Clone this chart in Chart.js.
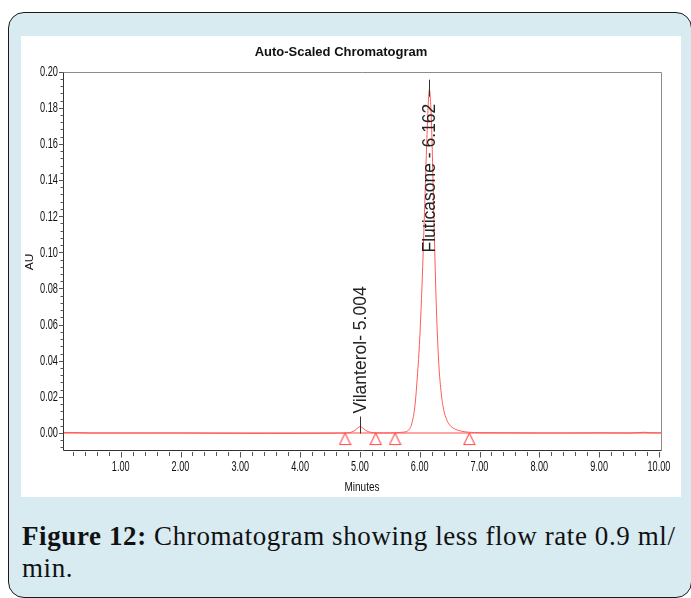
<!DOCTYPE html>
<html>
<head>
<meta charset="utf-8">
<script src="https://cdn.jsdelivr.net/npm/chart.js@4.4.1/dist/chart.umd.min.js"></script>
<style>
  html, body { margin: 0; padding: 0; background: #fff; }
  body { width: 691px; height: 598px; position: relative; overflow: hidden; }
  #panel { position: absolute; left: 8px; top: 12px; width: 684px; height: 586px; box-sizing: border-box;
           border: 1.5px solid #1a1a1a; border-radius: 16px; background: #d8ebf1; }
  #plot { position: absolute; left: 21px; top: 36px; width: 660px; height: 461px; background: #fff; }
  #caption { position: absolute; left: 22px; top: 520px; font-family: 'Liberation Serif', serif;
             font-size: 27px; line-height: 32px; color: #111; white-space: nowrap; letter-spacing: 0.6px; }
</style>
</head>
<body>
<div id="panel"></div>
<div id="plot"><canvas id="chart"></canvas></div>
<div id="caption"><b>Figure 12:</b> Chromatogram showing less flow rate 0.9 ml/<br>min.</div>
<script>
// trace (minutes, AU)
const times = [0.035, 0.1, 0.2, 0.3, 0.5, 1.0, 1.5, 2.0, 2.5, 3.0, 3.5, 4.0, 4.5,
  4.75, 4.85, 4.92, 4.97, 5.004, 5.04, 5.1, 5.18, 5.27, 5.4, 5.57, 5.7, 5.8, 5.87,
  5.92, 5.96, 6.0, 6.04, 6.08, 6.12, 6.162, 6.2, 6.24, 6.28, 6.32, 6.36, 6.4, 6.45,
  6.5, 6.6, 6.7, 6.83, 7.0, 7.5, 8.0, 8.5, 9.0, 9.5, 9.75, 9.85, 10.035];
const absorbance = [0.0001, 0.0003, 0.0003, 0.0002, 0.0, 0.0, 0.0, 0.0, -0.0001, -0.0002, -0.0002, -0.0002, -0.0001,
  0.0, 0.0004, 0.0015, 0.003, 0.0036, 0.003, 0.0014, 0.0004, 0.0001, 0.0, 0.0001, 0.0004, 0.0012, 0.0055,
  0.015, 0.031, 0.052, 0.083, 0.122, 0.163, 0.190, 0.168, 0.115, 0.068, 0.038, 0.022, 0.013, 0.0075,
  0.0045, 0.002, 0.001, 0.0004, 0.0002, 0.0001, 0.0, 0.0, 0.0001, 0.0, 0.0004, 0.0002, 0.0001];

const baselineTimes = [0.035, 10.035];
const baselineAU = [0, 0];

const markerTimes = [4.751, 5.264, 5.587, 6.829];
const markerAU = [0, 0, 0, 0];

const peakNames = ['Vilanterol- 5.004', 'Fluticasone - 6.162'];
const peakTimes = [5.004, 6.162];
const peakAU = [0.0036, 0.190];

const xTickValues = [1, 2, 3, 4, 5, 6, 7, 8, 9, 10];
const yTickValues = [0, 0.02, 0.04, 0.06, 0.08, 0.10, 0.12, 0.14, 0.16, 0.18, 0.20];
const xTitle = 'Minutes';
const yTitle = 'AU';

const sans = "'Liberation Sans', Arial, sans-serif";

// open triangle with its tip on the point
function triangleMark() {
  const c = document.createElement('canvas');
  c.width = 13; c.height = 26;
  const g = c.getContext('2d');
  g.strokeStyle = '#ff4f4f';
  g.lineWidth = 1.1;
  g.beginPath();
  g.moveTo(6.5, 13); g.lineTo(1, 24.5); g.lineTo(12, 24.5); g.closePath();
  g.stroke();
  return c;
}

// the instrument print uses a squeezed Arial for the axes
function squeezed(ctx, text, x, y, size, sx, align, rotate) {
  ctx.save();
  ctx.translate(x, y);
  ctx.scale(sx, 1);
  if (rotate) ctx.rotate(-Math.PI / 2);
  ctx.font = size + 'px ' + sans;
  ctx.textAlign = align;
  ctx.textBaseline = 'middle';
  ctx.fillText(text, 0, 0);
  ctx.restore();
}

const frame = {
  id: 'frame',
  afterDraw(chart) {
    const { ctx, chartArea: a, scales: { x, y } } = chart;
    const L = Math.round(a.left) + 0.5, T = Math.round(a.top) + 0.5;
    const R = Math.round(a.right) + 0.5, B = Math.round(a.bottom) + 0.5;
    ctx.save();
    ctx.lineWidth = 1;
    ctx.strokeStyle = '#8c8c8c';
    ctx.beginPath();
    ctx.moveTo(L, T); ctx.lineTo(R, T); ctx.lineTo(R, B);
    ctx.stroke();
    ctx.strokeStyle = '#333';
    ctx.beginPath();
    ctx.moveTo(L, T); ctx.lineTo(L, B); ctx.lineTo(R, B);
    ctx.stroke();

    ctx.strokeStyle = '#555';
    ctx.beginPath();
    for (let i = -2; i <= 50; i++) {
      const py = Math.round(y.getPixelForValue(i * 0.004)) + 0.5;
      const len = i % 5 === 0 ? 4.5 : 3;
      ctx.moveTo(L - len, py); ctx.lineTo(L, py);
    }
    for (let i = 1; i <= 50; i++) {
      const px = Math.round(x.getPixelForValue(i * 0.2)) + 0.5;
      const major = i % 5 === 0;
      ctx.moveTo(px, B + 1.5); ctx.lineTo(px, B + (major ? 7 : 5.5));
    }
    ctx.stroke();

    ctx.fillStyle = '#111';
    yTickValues.forEach(v => {
      squeezed(ctx, v.toFixed(2), a.left - 5, y.getPixelForValue(v) + 0.5, 14, 0.66, 'right');
    });
    xTickValues.forEach(v => {
      squeezed(ctx, v.toFixed(2), x.getPixelForValue(v), a.bottom + 17, 14.5, 0.63, 'center');
    });
    squeezed(ctx, xTitle, (a.left + a.right) / 2, a.bottom + 37, 13.5, 0.74, 'center');
    squeezed(ctx, yTitle, 9, (a.top + a.bottom) / 2 + 1, 12, 0.85, 'center', true);
    ctx.restore();
  }
};

const peakLabels = {
  id: 'peakLabels',
  afterDatasetsDraw(chart) {
    const { ctx, chartArea: a, scales: { x, y } } = chart;
    ctx.save();
    ctx.font = '17.5px ' + sans;
    ctx.fillStyle = '#222';
    ctx.strokeStyle = '#333';
    ctx.lineWidth = 1;
    ctx.textBaseline = 'middle';
    peakNames.forEach((name, i) => {
      const px = Math.round(x.getPixelForValue(peakTimes[i])) + 0.5;
      const py = y.getPixelForValue(peakAU[i]);
      ctx.beginPath();
      ctx.moveTo(px, py - 10); ctx.lineTo(px, py + 7);
      ctx.stroke();
      const w = ctx.measureText(name).width;
      ctx.save();
      if (py - 13 - w > a.top) {
        ctx.translate(px, py - 13);
        ctx.textAlign = 'left';
      } else {
        ctx.translate(px, py + 14);
        ctx.textAlign = 'right';
      }
      ctx.rotate(-Math.PI / 2);
      ctx.fillText(name, 0, 1);
      ctx.restore();
    });
    ctx.restore();
  }
};

new Chart(document.getElementById('chart'), {
  type: 'line',
  data: {
    datasets: [
      {
        data: times.map((t, i) => ({ x: t, y: absorbance[i] })),
        borderColor: '#ff5a5a',
        borderWidth: 1,
        pointRadius: 0,
        cubicInterpolationMode: 'monotone'
      },
      {
        data: baselineTimes.map((t, i) => ({ x: t, y: baselineAU[i] })),
        borderColor: '#ff4a4a',
        borderWidth: 1,
        pointRadius: 0
      },
      {
        data: markerTimes.map((t, i) => ({ x: t, y: markerAU[i] })),
        showLine: false,
        pointStyle: triangleMark(),
        pointRadius: 5
      }
    ]
  },
  options: {
    responsive: true,
    maintainAspectRatio: false,
    animation: false,
    events: [],
    layout: { padding: { left: 0, right: 20, top: 0, bottom: 0 } },
    plugins: {
      legend: { display: false },
      tooltip: { enabled: false },
      title: {
        display: true,
        text: 'Auto-Scaled Chromatogram',
        color: '#111',
        font: { family: sans, size: 13, weight: 'bold' },
        padding: { top: 9, bottom: 11 }
      }
    },
    scales: {
      x: {
        type: 'linear',
        min: 0.035,
        max: 10.035,
        grid: { display: false, drawTicks: false },
        border: { display: false },
        afterBuildTicks: s => { s.ticks = xTickValues.map(v => ({ value: v })); },
        afterFit: s => { s.height = 47; },
        ticks: { display: false }
      },
      y: {
        min: -0.0094,
        max: 0.2,
        grid: { display: false, drawTicks: false },
        border: { display: false },
        afterBuildTicks: s => { s.ticks = yTickValues.map(v => ({ value: v })); },
        afterFit: s => { s.width = 42; },
        ticks: { display: false }
      }
    }
  },
  plugins: [frame, peakLabels]
});
</script>
</body>
</html>
